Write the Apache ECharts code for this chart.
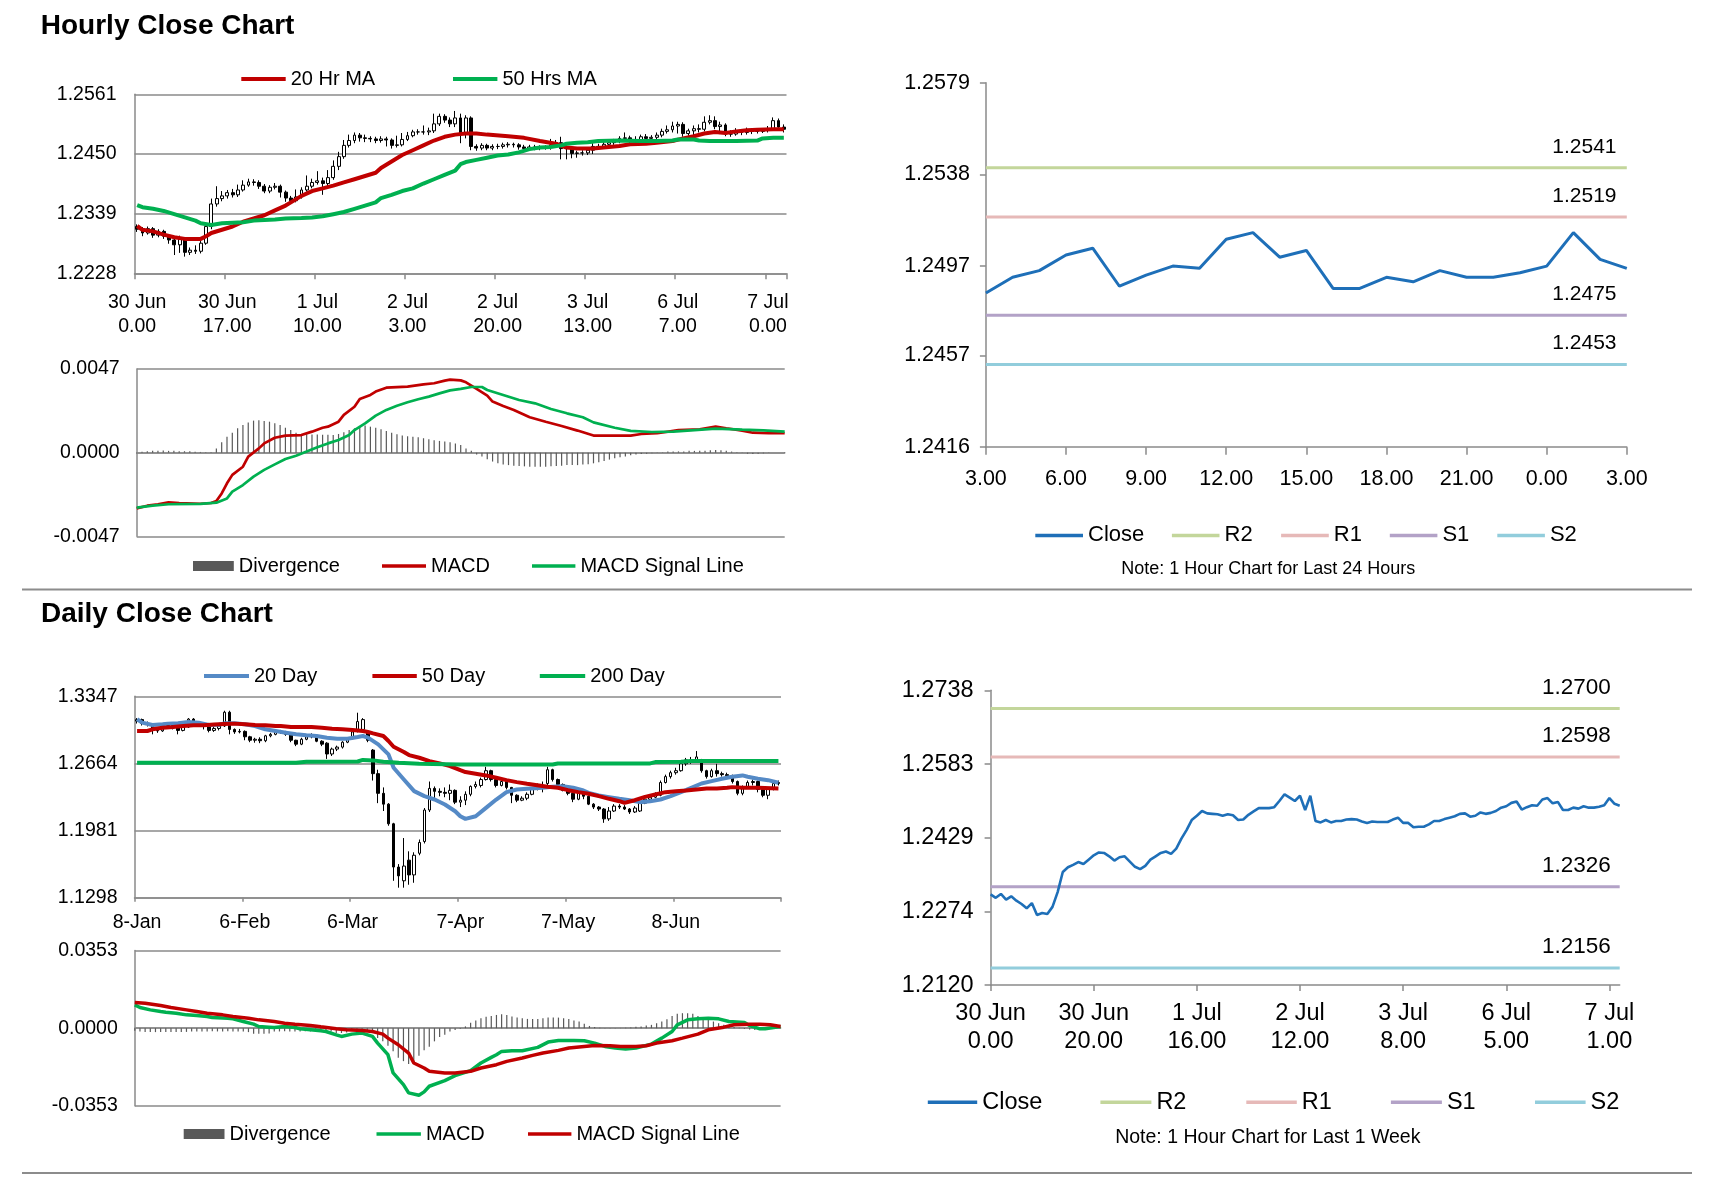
<!DOCTYPE html>
<html><head><meta charset="utf-8">
<script src="https://cdn.jsdelivr.net/npm/echarts@6/dist/echarts.min.js"></script>
<style>html,body{margin:0;padding:0;background:#fff}#c{width:1711px;height:1178px}</style>
</head><body><div id="c"></div>
<script>
// ---------------- DATA ----------------
const hourlyTickLabels = ['30 Jun\n0.00','30 Jun\n17.00','1 Jul\n10.00','2 Jul\n3.00','2 Jul\n20.00','3 Jul\n13.00','6 Jul\n7.00','7 Jul\n0.00'];
const weeklyTickLabels = ['30 Jun\n0.00','30 Jun\n20.00','1 Jul\n16.00','2 Jul\n12.00','3 Jul\n8.00','6 Jul\n5.00','7 Jul\n1.00'];
const dailyTickLabels = ['8-Jan','6-Feb','6-Mar','7-Apr','7-May','8-Jun'];
const dayHours = ['3.00','4.00','5.00','6.00','7.00','8.00','9.00','10.00','11.00','12.00','13.00','14.00','15.00','16.00','17.00','18.00','19.00','20.00','21.00','22.00','23.00','0.00','1.00','2.00','3.00'];

const hourlyYTicks = [1.2228, 1.2339, 1.2450, 1.2561];
const dailyYTicks = [1.1298, 1.1981, 1.2664, 1.3347];
const dayYTicks = [1.2416, 1.2457, 1.2497, 1.2538, 1.2579];
const weekYTicks = [1.2120, 1.2274, 1.2429, 1.2583, 1.2738];

const hourlyOpen = [1.2315,1.2310,1.2303,1.2311,1.2299,1.2306,1.2297,1.2290,1.2281,1.2292,
1.2267,1.2271,1.2269,1.2284,1.2315,1.2357,1.2367,1.2372,1.2378,1.2374,
1.2383,1.2392,1.2398,1.2397,1.2390,1.2381,1.2388,1.2390,1.2379,1.2368,
1.2363,1.2370,1.2383,1.2390,1.2397,1.2400,1.2395,1.2406,1.2427,1.2445,
1.2466,1.2475,1.2485,1.2480,1.2479,1.2478,1.2475,1.2478,1.2476,1.2466,
1.2467,1.2477,1.2484,1.2491,1.2491,1.2491,1.2493,1.2506,1.2520,1.2513,
1.2506,1.2517,1.2487,1.2517,1.2464,1.2461,1.2466,1.2461,1.2464,1.2464,
1.2467,1.2468,1.2467,1.2463,1.2460,1.2463,1.2462,1.2462,1.2462,1.2467,
1.2471,1.2460,1.2460,1.2451,1.2452,1.2452,1.2457,1.2464,1.2464,1.2468,
1.2471,1.2474,1.2479,1.2480,1.2473,1.2475,1.2482,1.2479,1.2481,1.2485,
1.2492,1.2495,1.2502,1.2505,1.2488,1.2493,1.2497,1.2496,1.2509,1.2512,
1.2501,1.2504,1.2487,1.2487,1.2492,1.2490,1.2495,1.2492,1.2492,1.2494,
1.2497,1.2512,1.2500];
const hourlyClose = [1.2310,1.2303,1.2311,1.2299,1.2306,1.2297,1.2290,1.2281,1.2292,1.2267,
1.2271,1.2269,1.2284,1.2315,1.2357,1.2367,1.2372,1.2378,1.2374,1.2383,
1.2392,1.2398,1.2397,1.2390,1.2381,1.2388,1.2390,1.2379,1.2368,1.2363,
1.2370,1.2383,1.2390,1.2397,1.2400,1.2395,1.2406,1.2427,1.2445,1.2466,
1.2475,1.2485,1.2480,1.2479,1.2478,1.2475,1.2478,1.2476,1.2466,1.2467,
1.2477,1.2484,1.2491,1.2491,1.2491,1.2493,1.2506,1.2520,1.2513,1.2506,
1.2517,1.2487,1.2517,1.2464,1.2461,1.2466,1.2461,1.2464,1.2464,1.2467,
1.2468,1.2467,1.2463,1.2460,1.2463,1.2462,1.2462,1.2462,1.2467,1.2471,
1.2460,1.2460,1.2451,1.2452,1.2452,1.2457,1.2464,1.2464,1.2468,1.2471,
1.2474,1.2479,1.2480,1.2473,1.2475,1.2482,1.2479,1.2481,1.2485,1.2492,
1.2495,1.2502,1.2505,1.2488,1.2493,1.2497,1.2496,1.2509,1.2512,1.2501,
1.2504,1.2487,1.2487,1.2492,1.2490,1.2495,1.2492,1.2492,1.2494,1.2497,
1.2512,1.2500,1.2496];
const hourlyHigh = [1.2319,1.2314,1.2315,1.2314,1.2310,1.2309,1.2300,1.2294,1.2298,1.2295,
1.2276,1.2280,1.2288,1.2322,1.2367,1.2390,1.2381,1.2383,1.2385,1.2393,
1.2401,1.2404,1.2403,1.2401,1.2394,1.2392,1.2396,1.2393,1.2382,1.2372,
1.2384,1.2388,1.2410,1.2404,1.2418,1.2406,1.2420,1.2438,1.2454,1.2476,
1.2486,1.2490,1.2489,1.2486,1.2483,1.2482,1.2483,1.2482,1.2479,1.2484,
1.2489,1.2491,1.2495,1.2496,1.2503,1.2499,1.2525,1.2525,1.2524,1.2518,
1.2530,1.2525,1.2522,1.2520,1.2468,1.2470,1.2469,1.2468,1.2469,1.2471,
1.2472,1.2471,1.2470,1.2467,1.2467,1.2467,1.2466,1.2466,1.2478,1.2476,
1.2482,1.2465,1.2463,1.2456,1.2457,1.2461,1.2470,1.2469,1.2472,1.2475,
1.2478,1.2483,1.2490,1.2484,1.2483,1.2486,1.2487,1.2485,1.2490,1.2497,
1.2503,1.2510,1.2510,1.2509,1.2497,1.2503,1.2505,1.2520,1.2522,1.2520,
1.2510,1.2507,1.2494,1.2498,1.2496,1.2499,1.2498,1.2497,1.2498,1.2502,
1.2518,1.2516,1.2505];
const hourlyLow = [1.2305,1.2297,1.2300,1.2294,1.2295,1.2292,1.2283,1.2262,1.2266,1.2259,
1.2262,1.2264,1.2265,1.2281,1.2310,1.2352,1.2362,1.2367,1.2369,1.2370,
1.2380,1.2389,1.2391,1.2385,1.2377,1.2377,1.2384,1.2369,1.2361,1.2357,
1.2360,1.2367,1.2380,1.2386,1.2393,1.2374,1.2390,1.2402,1.2420,1.2441,
1.2462,1.2470,1.2473,1.2472,1.2472,1.2470,1.2471,1.2464,1.2460,1.2462,
1.2464,1.2474,1.2481,1.2486,1.2486,1.2485,1.2489,1.2502,1.2508,1.2500,
1.2500,1.2470,1.2479,1.2457,1.2456,1.2457,1.2457,1.2457,1.2459,1.2460,
1.2462,1.2462,1.2458,1.2455,1.2456,1.2457,1.2457,1.2458,1.2458,1.2463,
1.2440,1.2440,1.2442,1.2443,1.2447,1.2448,1.2450,1.2460,1.2461,1.2464,
1.2467,1.2470,1.2475,1.2469,1.2468,1.2471,1.2474,1.2474,1.2477,1.2481,
1.2488,1.2490,1.2488,1.2482,1.2484,1.2483,1.2490,1.2492,1.2505,1.2496,
1.2487,1.2483,1.2482,1.2484,1.2485,1.2486,1.2487,1.2488,1.2489,1.2490,
1.2494,1.2496,1.2490];

const ma20Hourly = [[0,1.2316],[1,1.2309],[3,1.2306],[5,1.2300],[7,1.2295],[9,1.2292],[12,1.2292],[13,1.2297],[14,1.2303],[16,1.2309],[18,1.2315],[20,1.2324],[22,1.2330],[24,1.2336],[26,1.2345],[28,1.2354],[29,1.2360],[31,1.2372],[33,1.2381],[35,1.2386],[37,1.2391],[39,1.2397],[41,1.2403],[43,1.2409],[45,1.2415],[46,1.2424],[48,1.2436],[50,1.2448],[52,1.2457],[54,1.2466],[56,1.2475],[58,1.2482],[60,1.2486],[62,1.2488],[64,1.2488],[66,1.2486],[70,1.2483],[73,1.2480],[76,1.2474],[79,1.2469],[81,1.2462],[83,1.2460],[86,1.2460],[88,1.2462],[91,1.2465],[93,1.2468],[96,1.2469],[98,1.2471],[101,1.2474],[103,1.2479],[105,1.2483],[107,1.2488],[109,1.2491],[111,1.2489],[113,1.2492],[115,1.2494],[117,1.2495],[120,1.2496],[122,1.2496]];
const ma50Hourly = [[0,1.2355],[1,1.2351],[3,1.2348],[5,1.2344],[7,1.2338],[9,1.2332],[11,1.2326],[12,1.2321],[14,1.2318],[16,1.2321],[18,1.2322],[20,1.2323],[22,1.2326],[24,1.2327],[26,1.2328],[28,1.2330],[31,1.2331],[33,1.2332],[35,1.2334],[37,1.2338],[39,1.2342],[41,1.2348],[43,1.2354],[45,1.2360],[46,1.2368],[48,1.2374],[50,1.2381],[52,1.2386],[54,1.2395],[56,1.2403],[58,1.2411],[60,1.2419],[61,1.2431],[62,1.2435],[64,1.2439],[66,1.2443],[68,1.2447],[70,1.2449],[72,1.2453],[74,1.2459],[76,1.2462],[78,1.2463],[80,1.2466],[81,1.2469],[83,1.2471],[85,1.2472],[87,1.2474],[91,1.2475],[95,1.2474],[98,1.2474],[101,1.2475],[102,1.2477],[105,1.2477],[106,1.2475],[108,1.2474],[113,1.2474],[117,1.2475],[118,1.2479],[120,1.2480],[122,1.2480]];

const macdHourly = [[0,-0.00313],[2,-0.00298],[4,-0.00290],[6,-0.00279],[8,-0.00283],[12,-0.00287],[14,-0.00283],[15,-0.00272],[16,-0.00229],[17,-0.00172],[18,-0.00125],[20,-0.00079],[21,-0.00022],[23,0.00024],[24,0.00052],[26,0.00084],[28,0.00096],[31,0.00099],[33,0.00118],[35,0.00140],[36,0.00146],[38,0.00174],[39,0.00212],[41,0.00258],[42,0.00302],[44,0.00324],[45,0.00343],[47,0.00365],[51,0.00371],[54,0.00384],[56,0.00390],[58,0.00405],[59,0.00410],[61,0.00406],[62,0.00395],[64,0.00358],[66,0.00320],[67,0.00287],[69,0.00262],[71,0.00240],[74,0.00199],[77,0.00174],[80,0.00150],[83,0.00124],[86,0.00096],[90,0.00096],[93,0.00096],[95,0.00105],[98,0.00109],[102,0.00127],[106,0.00131],[109,0.00146],[111,0.00137],[114,0.00124],[116,0.00112],[119,0.00109],[122,0.00109]];
const signalHourly = [[0,-0.00309],[3,-0.00298],[6,-0.00290],[12,-0.00288],[15,-0.00281],[17,-0.00257],[18,-0.00219],[20,-0.00182],[22,-0.00135],[24,-0.00097],[26,-0.00066],[28,-0.00036],[30,-0.00017],[32,0.00006],[34,0.00030],[36,0.00052],[38,0.00071],[40,0.00099],[41,0.00127],[43,0.00165],[45,0.00208],[47,0.00240],[49,0.00264],[51,0.00283],[53,0.00300],[55,0.00315],[57,0.00333],[59,0.00350],[61,0.00358],[63,0.00369],[65,0.00369],[66,0.00352],[69,0.00324],[72,0.00296],[75,0.00277],[78,0.00245],[81,0.00221],[84,0.00199],[86,0.00170],[90,0.00140],[93,0.00122],[97,0.00116],[101,0.00118],[105,0.00127],[109,0.00135],[114,0.00129],[118,0.00125],[122,0.00118]];
const divHourly = [-0.00004,0.00005,0.00008,0.0001,0.0001,0.00012,0.0001,0.0001,0.00008,0.00008,0.00008,0.00005,0.00004,0.00002,0.00002,
0.00024,0.00058,0.0009,0.00112,0.00137,0.00155,0.00169,0.0018,0.00182,0.00178,
0.00174,0.00165,0.00155,0.0014,0.00127,0.00112,0.00103,0.00103,0.00102,0.00102,
0.00101,0.001,0.00099,0.00105,0.00114,0.00127,0.00137,0.00146,0.00152,0.00146,
0.0014,0.00131,0.00122,0.00112,0.00103,0.00096,0.00092,0.0009,0.00086,0.00081,
0.00075,0.00069,0.00066,0.00062,0.00058,0.00052,0.00043,0.00024,0.0001,-0.0001,
-0.00022,-0.00037,-0.0005,-0.0006,-0.00066,-0.0007,-0.00073,-0.00075,-0.00077,-0.00079,
-0.00079,-0.00079,-0.00079,-0.00077,-0.00075,-0.00073,-0.0007,-0.0007,-0.0007,-0.00067,
-0.00065,-0.0006,-0.00054,-0.00047,-0.00039,-0.00032,-0.00026,-0.00021,-0.00015,-0.00011,
-0.00007,-0.00006,-0.00004,-0.00002,0.00002,0.00006,0.00007,0.00007,0.00007,0.0001,
0.0001,0.00011,0.00011,0.00013,0.00015,0.00013,0.0001,0.00006,0.00002,-0.00002,
-0.00006,-0.00007,-0.00006,-0.00004,-0.00002,0,0,0.00002];

const last24Start = 98;
const dayLevels = [1.2541, 1.2519, 1.2475, 1.2453];
const weekLevels = [1.2700, 1.2598, 1.2326, 1.2156];

const dailyOpen = [1.3095,1.3110,1.3070,1.3060,1.3000,1.2995,1.3030,1.3050,1.3040,1.3000,
1.3035,1.3115,1.3070,1.3065,1.3040,1.3000,1.3020,1.3045,1.3185,1.3010,
1.2985,1.2990,1.2935,1.2900,1.2910,1.2895,1.2945,1.2960,1.2990,1.2985,
1.2960,1.2900,1.2860,1.2910,1.2935,1.2950,1.2890,1.2870,1.2760,1.2810,
1.2830,1.2880,1.2915,1.2990,1.3010,1.2980,1.2800,1.2560,1.2360,1.2250,
1.2050,1.1610,1.1470,1.1680,1.1530,1.1750,1.1870,1.2190,1.2410,1.2380,
1.2370,1.2360,1.2390,1.2270,1.2290,1.2350,1.2430,1.2440,1.2500,1.2590,
1.2500,1.2440,1.2480,1.2420,1.2340,1.2290,1.2310,1.2350,1.2400,1.2440,
1.2460,1.2600,1.2500,1.2450,1.2390,1.2360,1.2300,1.2380,1.2330,1.2250,
1.2220,1.2200,1.2100,1.2180,1.2230,1.2220,1.2200,1.2170,1.2180,1.2260,
1.2300,1.2320,1.2340,1.2470,1.2530,1.2570,1.2590,1.2660,1.2700,1.2700,
1.2700,1.2590,1.2530,1.2590,1.2560,1.2550,1.2540,1.2480,1.2360,1.2420,
1.2470,1.2480,1.2400,1.2340,1.2400,1.2460];
const dailyClose = [1.3110,1.3070,1.3060,1.3000,1.2995,1.3030,1.3050,1.3040,1.3000,1.3035,
1.3115,1.3070,1.3065,1.3040,1.3000,1.3020,1.3045,1.3185,1.3010,1.2985,
1.2990,1.2935,1.2900,1.2910,1.2895,1.2945,1.2960,1.2990,1.2985,1.2960,
1.2900,1.2860,1.2910,1.2935,1.2950,1.2890,1.2860,1.2760,1.2810,1.2830,
1.2880,1.2915,1.2985,1.3090,1.3110,1.2900,1.2560,1.2360,1.2250,1.2050,
1.1610,1.1520,1.1620,1.1530,1.1730,1.1860,1.2190,1.2410,1.2380,1.2370,
1.2360,1.2390,1.2270,1.2290,1.2350,1.2430,1.2450,1.2500,1.2590,1.2500,
1.2440,1.2480,1.2420,1.2340,1.2290,1.2310,1.2350,1.2400,1.2440,1.2430,
1.2600,1.2500,1.2450,1.2390,1.2360,1.2300,1.2380,1.2330,1.2250,1.2220,
1.2200,1.2100,1.2180,1.2230,1.2220,1.2200,1.2170,1.2210,1.2260,1.2300,
1.2320,1.2340,1.2470,1.2530,1.2570,1.2590,1.2660,1.2700,1.2690,1.2730,
1.2590,1.2530,1.2590,1.2560,1.2550,1.2540,1.2480,1.2360,1.2420,1.2470,
1.2480,1.2400,1.2340,1.2400,1.2460,1.2470];
const dailyHigh = [1.3125,1.3120,1.3090,1.3070,1.3030,1.3045,1.3065,1.3060,1.3050,1.3050,
1.3125,1.3125,1.3090,1.3080,1.3050,1.3035,1.3060,1.3200,1.3200,1.3020,
1.3015,1.3000,1.2945,1.2925,1.2930,1.2955,1.2975,1.3000,1.3005,1.2995,
1.2965,1.2905,1.2925,1.2950,1.2970,1.2955,1.2900,1.2880,1.2825,1.2845,
1.2890,1.2930,1.2995,1.3180,1.3125,1.2990,1.2810,1.2600,1.2420,1.2260,
1.2060,1.1640,1.1905,1.1770,1.1760,1.1890,1.2210,1.2480,1.2430,1.2410,
1.2420,1.2450,1.2400,1.2330,1.2380,1.2440,1.2480,1.2520,1.2630,1.2600,
1.2510,1.2500,1.2490,1.2425,1.2350,1.2330,1.2370,1.2420,1.2460,1.2480,
1.2630,1.2610,1.2510,1.2460,1.2400,1.2370,1.2400,1.2390,1.2340,1.2260,
1.2230,1.2210,1.2220,1.2250,1.2250,1.2240,1.2210,1.2230,1.2280,1.2330,
1.2340,1.2370,1.2490,1.2550,1.2590,1.2620,1.2680,1.2720,1.2730,1.2790,
1.2710,1.2600,1.2610,1.2660,1.2580,1.2570,1.2550,1.2490,1.2440,1.2490,
1.2500,1.2490,1.2410,1.2420,1.2480,1.2490];
const dailyLow = [1.3070,1.3050,1.3040,1.2960,1.2975,1.2985,1.3020,1.3010,1.2960,1.2990,
1.3025,1.3055,1.3045,1.3010,1.2980,1.2985,1.3000,1.3035,1.2960,1.2965,
1.2970,1.2900,1.2880,1.2875,1.2870,1.2880,1.2930,1.2950,1.2965,1.2945,
1.2880,1.2840,1.2850,1.2900,1.2920,1.2880,1.2840,1.2710,1.2740,1.2790,
1.2815,1.2870,1.2905,1.2980,1.2995,1.2880,1.2490,1.2260,1.2180,1.2030,
1.1470,1.1400,1.1400,1.1430,1.1450,1.1730,1.1850,1.2170,1.2300,1.2330,
1.2320,1.2290,1.2250,1.2220,1.2240,1.2330,1.2410,1.2420,1.2490,1.2480,
1.2420,1.2430,1.2400,1.2260,1.2270,1.2280,1.2290,1.2340,1.2390,1.2370,
1.2440,1.2480,1.2430,1.2380,1.2340,1.2270,1.2290,1.2300,1.2240,1.2200,
1.2180,1.2060,1.2080,1.2170,1.2200,1.2190,1.2150,1.2160,1.2170,1.2250,
1.2290,1.2310,1.2330,1.2460,1.2510,1.2550,1.2580,1.2640,1.2660,1.2690,
1.2570,1.2510,1.2520,1.2530,1.2530,1.2520,1.2460,1.2340,1.2340,1.2410,
1.2440,1.2370,1.2320,1.2300,1.2390,1.2440];

const sma20Daily = [[0,1.3113],[1,1.3079],[3,1.3055],[5,1.3062],[6,1.3069],[8,1.3072],[10,1.3086],[12,1.3079],[14,1.3055],[16,1.3058],[17,1.3072],[19,1.3072],[21,1.3062],[23,1.3045],[25,1.3011],[27,1.2994],[29,1.2977],[31,1.2960],[33,1.2950],[35,1.2943],[37,1.2926],[39,1.2916],[41,1.2916],[43,1.2933],[44,1.2943],[45,1.2926],[47,1.2858],[49,1.2756],[50,1.2620],[52,1.2501],[54,1.2382],[56,1.2331],[58,1.2297],[60,1.2246],[62,1.2178],[63,1.2127],[64,1.2100],[66,1.2127],[68,1.2212],[70,1.2297],[72,1.2372],[74,1.2399],[76,1.2406],[79,1.2416],[81,1.2426],[83,1.2433],[85,1.2416],[87,1.2389],[88,1.2365],[90,1.2338],[92,1.2321],[94,1.2304],[96,1.2290],[98,1.2270],[100,1.2280],[102,1.2297],[104,1.2331],[106,1.2372],[108,1.2416],[110,1.2460],[112,1.2484],[114,1.2508],[116,1.2528],[118,1.2542],[119,1.2528],[121,1.2508],[123,1.2494],[125,1.2467]];
const sma50Daily = [[0,1.2994],[2,1.2994],[3,1.3011],[5,1.3028],[7,1.3035],[9,1.3045],[11,1.3052],[13,1.3052],[15,1.3059],[17,1.3065],[19,1.3069],[21,1.3062],[23,1.3055],[25,1.3052],[27,1.3045],[28,1.3045],[30,1.3035],[32,1.3035],[34,1.3035],[36,1.3028],[38,1.3018],[40,1.3011],[42,1.3004],[44,1.2994],[45,1.2984],[46,1.2970],[48,1.2943],[49,1.2892],[50,1.2834],[52,1.2780],[53,1.2749],[55,1.2722],[57,1.2688],[59,1.2664],[61,1.2637],[63,1.2596],[64,1.2576],[66,1.2559],[68,1.2542],[70,1.2518],[72,1.2494],[74,1.2474],[76,1.2457],[78,1.2443],[80,1.2426],[82,1.2416],[84,1.2392],[86,1.2372],[88,1.2355],[90,1.2331],[92,1.2304],[94,1.2280],[95,1.2263],[97,1.2290],[99,1.2324],[101,1.2348],[103,1.2372],[105,1.2382],[107,1.2389],[109,1.2399],[111,1.2409],[113,1.2409],[115,1.2416],[116,1.2423],[118,1.2416],[121,1.2416],[125,1.2409]];
const sma200Daily = [[0,1.2671],[31,1.2671],[33,1.2681],[43,1.2684],[44,1.2700],[46,1.2695],[48,1.2681],[51,1.2671],[55,1.2661],[63,1.2654],[81,1.2654],[82,1.2664],[100,1.2664],[101,1.2678],[106,1.2681],[108,1.2688],[125,1.2688]];

const macdDaily = [[0,0.01056],[1,0.00936],[3,0.0083],[5,0.00755],[6,0.00724],[8,0.00679],[10,0.00604],[12,0.00573],[14,0.00528],[15,0.00483],[18,0.00453],[19,0.00423],[21,0.00302],[23,0.00181],[24,0.00075],[26,0.00045],[27,0.0003],[29,0.00075],[31,0.0003],[32,-0.0003],[34,-0.00075],[36,-0.00121],[37,-0.00151],[39,-0.00302],[40,-0.00377],[42,-0.00272],[44,-0.00226],[46,-0.00377],[47,-0.00679],[49,-0.01207],[50,-0.02037],[52,-0.02565],[53,-0.02943],[55,-0.03048],[56,-0.02897],[57,-0.02641],[60,-0.02384],[62,-0.02158],[65,-0.01932],[67,-0.01584],[69,-0.01328],[70,-0.01207],[71,-0.01056],[73,-0.01026],[75,-0.01026],[78,-0.00875],[80,-0.00634],[82,-0.00558],[85,-0.00558],[87,-0.00573],[89,-0.00679],[91,-0.0083],[93,-0.00905],[95,-0.00951],[97,-0.00905],[100,-0.00724],[102,-0.00453],[104,-0.00151],[105,0.00151],[107,0.00377],[109,0.00423],[111,0.00453],[113,0.00423],[115,0.00302],[118,0.00257],[119,0.00121],[121,-0.0003],[122,-0.0003],[124,0.00045],[125,0.00075]];
const signalDaily = [[0,0.01162],[2,0.01132],[5,0.01026],[7,0.00936],[10,0.0083],[12,0.00755],[14,0.00679],[17,0.00604],[19,0.00528],[22,0.00453],[24,0.00377],[27,0.00302],[29,0.00226],[31,0.00181],[34,0.00121],[36,0.0006],[39,-0.0003],[41,-0.00075],[44,-0.00106],[46,-0.00151],[48,-0.00272],[49,-0.00453],[51,-0.00755],[53,-0.01132],[54,-0.01584],[56,-0.01811],[57,-0.01962],[60,-0.02037],[62,-0.02037],[65,-0.01962],[67,-0.01811],[70,-0.0166],[72,-0.01509],[75,-0.01358],[77,-0.01237],[79,-0.01132],[82,-0.01011],[84,-0.00905],[87,-0.0083],[89,-0.00785],[92,-0.008],[94,-0.0083],[97,-0.0083],[99,-0.008],[101,-0.00679],[104,-0.00573],[106,-0.00453],[109,-0.00272],[111,-0.00075],[114,0.00045],[116,0.00151],[119,0.00181],[121,0.00181],[123,0.00151],[125,0.00075]];
const divDaily = [-0.0012,-0.0015,-0.0018,-0.0018,-0.0018,-0.0018,-0.0017,-0.0018,-0.0018,-0.0017,
-0.0017,-0.0015,-0.0015,-0.0015,-0.0015,-0.0014,-0.0015,-0.0015,-0.0014,-0.0015,
-0.0015,-0.0015,-0.0018,-0.0026,-0.0026,-0.0026,-0.0024,-0.0015,-0.0015,-0.0014,
-0.0015,-0.0015,-0.0015,-0.0014,-0.0015,-0.0015,-0.0015,-0.0016,-0.0015,-0.0022,
-0.0022,-0.0020,-0.0006,-0.0006,-0.0006,-0.0008,-0.0015,-0.0045,-0.0060,-0.0080,
-0.0105,-0.0135,-0.0150,-0.0163,-0.0155,-0.0125,-0.0100,-0.0085,-0.0060,-0.0040,
-0.0030,-0.0015,-0.0008,-0.0004,0.0008,0.0025,0.0035,0.0045,0.0052,0.0055,
0.0060,0.0063,0.0060,0.0053,0.0048,0.0045,0.0042,0.0042,0.0042,0.0045,
0.0048,0.0048,0.0048,0.0045,0.0042,0.0035,0.0030,0.0020,0.0010,0.0005,
0.0002,0.0001,0.0001,0.0001,0.0001,0.0002,0.0003,0.0006,0.0008,0.0012,
0.0015,0.0022,0.0030,0.0040,0.0055,0.0065,0.0068,0.0068,0.0065,0.0055,
0.0045,0.0038,0.0030,0.0022,0.0015,0.0010,0.0005,0.0002,-0.0004,-0.0006,
-0.0008,-0.0008,-0.0006,-0.0004,-0.0002,0.0000];

// ---------------- STYLE ----------------
const FF = '"Liberation Sans", Arial, Helvetica, sans-serif';
const GRAY = '#8a8a8a';
const RED = '#c00000', GREEN = '#00b050', BLUE = '#558ac6', CLOSE = '#1e6fb8';
const LVL = ['#c3d69b', '#e6b9b8', '#b3a2c7', '#92cddc'];
const LVLNAMES = ['R2', 'R1', 'S1', 'S2'];

const hourIdx = hourlyClose.map((_, i) => String(i));
const dayIdx = dailyClose.map((_, i) => String(i));

function axLine(show) { return { show: show !== false, onZero: true, lineStyle: { color: GRAY, width: 1.5 } }; }
function lbl(fs, extra) { return Object.assign({ color: '#000', fontFamily: FF, fontSize: fs }, extra || {}); }

const grids = [
  { left: 134.5, top: 94.3, width: 652, height: 179 },
  { left: 136.7, top: 369, width: 648, height: 167.3 },
  { left: 985.9, top: 82.8, width: 640.9, height: 364.4 },
  { left: 134.5, top: 696.3, width: 646.5, height: 201.4 },
  { left: 134.8, top: 950.5, width: 645.8, height: 155.3 },
  { left: 990.6, top: 690.3, width: 629.1, height: 294.8 }
].map(g => Object.assign({ outerBoundsMode: 'none', containLabel: false }, g));

const xAxis = [
  { gridIndex: 0, type: 'category', data: hourIdx, boundaryGap: true, axisLine: axLine(),
    axisTick: { show: true, interval: 16, length: 6, lineStyle: { color: GRAY, width: 1.5 } },
    axisLabel: lbl(19.5, { interval: 16, lineHeight: 24, margin: 17.5, formatter: (v, i) => hourlyTickLabels[Math.round(i / 17)] || '' }),
    splitLine: { show: false } },
  { gridIndex: 1, type: 'category', data: hourIdx, boundaryGap: false, axisLine: axLine(),
    axisTick: { show: false }, axisLabel: { show: false }, splitLine: { show: false } },
  { gridIndex: 2, type: 'category', data: dayHours, boundaryGap: false, axisLine: axLine(),
    axisTick: { show: true, interval: 2, length: 7.5, lineStyle: { color: GRAY, width: 1.5 } },
    axisLabel: lbl(21.5, { interval: 2, margin: 20.5 }), splitLine: { show: false } },
  { gridIndex: 3, type: 'category', data: dayIdx, boundaryGap: true, axisLine: axLine(),
    axisTick: { show: true, interval: 20, length: 4, lineStyle: { color: GRAY, width: 1.5 } },
    axisLabel: lbl(19.5, { interval: 20, margin: 14.5, formatter: (v, i) => dailyTickLabels[Math.round(i / 21)] || '' }),
    splitLine: { show: false } },
  { gridIndex: 4, type: 'category', data: dayIdx, boundaryGap: false, axisLine: axLine(),
    axisTick: { show: false }, axisLabel: { show: false }, splitLine: { show: false } },
  { gridIndex: 5, type: 'category', data: hourIdx, boundaryGap: false, axisLine: axLine(),
    axisTick: { show: true, interval: 19, length: 6, lineStyle: { color: GRAY, width: 1.5 } },
    axisLabel: lbl(23.5, { interval: 19, lineHeight: 27.7, margin: 14.5, formatter: (v, i) => weeklyTickLabels[Math.round(i / 20)] || '' }),
    splitLine: { show: false } }
];

function customY(gi, ticks, fs, margin, split, tick) {
  return { gridIndex: gi, type: 'value', min: ticks[0], max: ticks[ticks.length - 1], scale: true,
    axisLine: { show: true, lineStyle: { color: GRAY, width: 1.5 } },
    axisTick: { show: !!tick, length: 6, customValues: ticks, lineStyle: { color: GRAY, width: 1.5 } },
    axisLabel: lbl(fs, { customValues: ticks, margin, formatter: v => v.toFixed(4) }),
    splitLine: { show: !!split, customValues: ticks, lineStyle: { color: GRAY, width: 1.5 } } };
}
function macdY(gi, lim, fs, margin) {
  return { gridIndex: gi, type: 'value', min: -lim, max: lim, interval: lim,
    axisLine: { show: true, lineStyle: { color: GRAY, width: 1.5 } }, axisTick: { show: false },
    axisLabel: lbl(fs, { margin, formatter: v => v.toFixed(4) }),
    splitLine: { show: true, lineStyle: { color: GRAY, width: 1.5 } } };
}
const yAxis = [
  customY(0, hourlyYTicks, 19.5, 18, true, false),
  macdY(1, 0.0047, 19.5, 17),
  customY(2, dayYTicks, 21.5, 16, false, true),
  customY(3, dailyYTicks, 19.5, 17, true, false),
  macdY(4, 0.0353, 19.5, 17),
  customY(5, weekYTicks, 23.5, 17, false, true)
];

function line(name, xi, data, color, width) {
  return { type: 'line', name, xAxisIndex: xi, yAxisIndex: xi, data, symbol: 'none', smooth: false,
    lineStyle: { color, width }, itemStyle: { color }, silent: true, z: 3 };
}
function candle(xi, o, c, l, h, bw) {
  return { type: 'candlestick', xAxisIndex: xi, yAxisIndex: xi, barWidth: bw, silent: true,
    data: o.map((v, i) => [v, c[i], l[i], h[i]]),
    itemStyle: { color: '#ffffff', color0: '#000000', borderColor: '#000000', borderColor0: '#000000', borderWidth: 1 } };
}
function bars(name, xi, data) {
  return { type: 'bar', name, xAxisIndex: xi, yAxisIndex: xi, data, barWidth: 1.2, silent: true,
    itemStyle: { color: '#595959' }, z: 2 };
}
function level(name, xi, n, value, color, labIdx, fs, dist, offX) {
  const data = [];
  for (let i = 0; i < n; i++) {
    if (i === labIdx) data.push({ value, symbol: 'circle', symbolSize: 1,
      label: { show: true, position: 'top', distance: dist, offset: [offX, 0], formatter: value.toFixed(4), color: '#000', fontFamily: FF, fontSize: fs } });
    else data.push(value);
  }
  return { type: 'line', name, xAxisIndex: xi, yAxisIndex: xi, data, symbol: 'none', showSymbol: true, showAllSymbol: true,
    lineStyle: { color, width: 3 }, itemStyle: { color }, silent: true, z: 2 };
}

const series = [
  candle(0, hourlyOpen, hourlyClose, hourlyLow, hourlyHigh, 3.4),
  line('20 Hr MA', 0, ma20Hourly, RED, 4),
  line('50 Hrs MA', 0, ma50Hourly, GREEN, 4),
  bars('Divergence', 1, divHourly),
  line('MACD', 1, macdHourly, RED, 2.7),
  line('MACD Signal Line', 1, signalHourly, GREEN, 2.7),
  line('Close', 2, hourlyClose.slice(last24Start), CLOSE, 3),
  candle(3, dailyOpen, dailyClose, dailyLow, dailyHigh, 3),
  line('20 Day', 3, sma20Daily, BLUE, 4),
  line('50 Day', 3, sma50Daily, RED, 4),
  line('200 Day', 3, sma200Daily, GREEN, 4),
  bars('Divergence ', 4, divDaily),
  line('MACD ', 4, macdDaily, GREEN, 3.5),
  line('MACD Signal Line ', 4, signalDaily, RED, 3.5),
  line('Close ', 5, hourlyClose, CLOSE, 2.6)
];
dayLevels.forEach((v, k) => series.push(level(LVLNAMES[k], 2, dayHours.length, v, LVL[k], 22, 21, 10, 11)));
weekLevels.forEach((v, k) => series.push(level(LVLNAMES[k] + ' ', 5, hourlyClose.length, v, LVL[k], 113, 22.5, 9, 3)));

function leg(name, left, cy, fs, w, h) {
  return { data: [name], left, top: cy - Math.max(fs, h) / 2, itemWidth: w, itemHeight: h, icon: 'rect', padding: 0,
    itemGap: 0, selectedMode: false, formatter: n => n.trim(),
    textStyle: { fontFamily: FF, fontSize: fs, color: '#000' } };
}
const legend = [
  leg('20 Hr MA', 241.3, 79, 20, 44.4, 4), leg('50 Hrs MA', 453, 79, 20, 44.4, 4),
  leg('Divergence', 193, 566, 20, 40.8, 10), leg('MACD', 382, 566, 20, 44, 3.5), leg('MACD Signal Line', 532, 566, 20, 43.4, 3.5),
  leg('Close', 1035.3, 535.4, 22, 47.7, 3.5), leg('R2', 1171.9, 535.4, 22, 47.6, 3.5), leg('R1', 1281.1, 535.4, 22, 47.7, 3.5),
  leg('S1', 1389.8, 535.4, 22, 47.6, 3.5), leg('S2', 1497.3, 535.4, 22, 47.6, 3.5),
  leg('20 Day', 204, 676, 20, 45, 4), leg('50 Day', 372.4, 676, 20, 44.4, 4), leg('200 Day', 539.8, 676, 20, 45.4, 4),
  leg('Divergence ', 183.7, 1134, 20, 40.8, 10), leg('MACD ', 376.5, 1134, 20, 44.4, 3.5), leg('MACD Signal Line ', 528, 1134, 20, 43.4, 3.5),
  leg('Close ', 927.8, 1102, 23.5, 49.4, 3.5), leg('R2 ', 1100.4, 1102, 23.5, 51, 3.5), leg('R1 ', 1246.3, 1102, 23.5, 50.5, 3.5),
  leg('S1 ', 1390.9, 1102, 23.5, 51, 3.5), leg('S2 ', 1535, 1102, 23.5, 50.6, 3.5)
];

function txt(text, x, y, font, align) {
  return { type: 'text', x, y, silent: true,
    style: { text, font, fill: '#000', align: align || 'left', verticalAlign: 'middle', textAlign: align || 'left', textVerticalAlign: 'middle' } };
}
function hr(y) {
  return { type: 'line', silent: true, shape: { x1: 22, y1: y, x2: 1692, y2: y }, style: { stroke: '#8c8c8c', lineWidth: 2 } };
}
const graphic = [
  txt('Hourly Close Chart', 40.8, 26, 'bold 28px ' + FF),
  txt('Daily Close Chart', 41, 614, 'bold 28px ' + FF),
  txt('Note: 1 Hour Chart for Last 24 Hours', 1268.3, 569, '18px ' + FF, 'center'),
  txt('Note: 1 Hour Chart for Last 1 Week', 1267.8, 1137.6, '19.5px ' + FF, 'center'),
  hr(589.5), hr(1173)
];

const chart = echarts.init(document.getElementById('c'), null, { renderer: 'canvas', width: 1711, height: 1178 });
chart.setOption({ animation: false, backgroundColor: '#ffffff', textStyle: { fontFamily: FF },
  grid: grids, xAxis, yAxis, series, legend, graphic, tooltip: { show: false } });
</script></body></html>
